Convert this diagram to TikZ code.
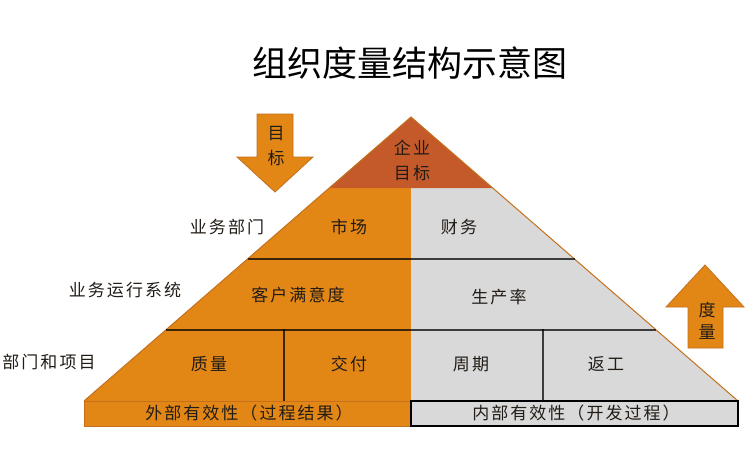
\documentclass[tikz,border=0pt]{standalone}
\usepackage{fontspec}
\setmainfont{Noto Sans CJK SC}
\newfontfamily\lblfont[LetterSpace=12]{Noto Sans CJK SC}
\usetikzlibrary{calc}
\definecolor{pyrorange}{RGB}{226, 135, 22}
\definecolor{pyrred}{RGB}{196, 90, 42}
\definecolor{pyrgrey}{RGB}{217, 217, 217}
\definecolor{pyredge}{RGB}{196, 112, 28}
\definecolor{pyrtext}{RGB}{34, 28, 22}

\begin{document}
\begin{tikzpicture}[x=1pt, y=-1pt,
  lbl/.style={font=\lblfont\fontsize{17}{25}\selectfont, text=pyrtext, inner sep=0pt, align=center},
  rowline/.style={draw=black, draw opacity=0.72, line width=1.3pt},
  bigarrow/.style={fill=pyrorange, draw=pyredge, line width=0.8pt}]
  \useasboundingbox (0,0) rectangle (750,459);

  % Title
  \node[font=\fontsize{35}{35}\selectfont, text=black] (title) at (410,63) {组织度量结构示意图};

  % Pyramid corners
  \coordinate (apex) at (411,117);
  \coordinate (bl) at (84,401);
  \coordinate (br) at (738,401);
  \coordinate (bm) at (411,401);

  \fill[pyrorange] (apex) -- (bl) -- (bm) -- cycle;
  \fill[pyrgrey] (apex) -- (br) -- (bm) -- cycle;
  \fill[pyrred] (apex) -- ($(apex)!0.25!(bl)$) -- ($(apex)!0.25!(br)$) -- cycle;
  \draw[pyredge, line width=1pt] (bl) -- (apex) -- (br);

  % Row and cell lines
  \draw[rowline] ($(apex)!0.5!(bl)$) -- ($(apex)!0.5!(br)$);
  \draw[rowline] ($(apex)!0.75!(bl)$) -- ($(apex)!0.75!(br)$);
  \draw[rowline] (284,329) -- (284,401);
  \draw[rowline] (543,329) -- (543,401);

  % Bottom bars
  \draw[fill=pyrorange, draw=pyredge, line width=1pt] (bl) rectangle (411,426);
  \draw[fill=pyrgrey, draw=black, line width=1.5pt] (bm) rectangle (738,426);

  % Arrows
  \draw[bigarrow] (257,114) -- (293,114) -- (293,157) -- (313,157) -- (275,192)
    -- (237,157) -- (257,157) -- cycle;
  \draw[bigarrow] (705,265) -- (744,307) -- (723,307) -- (723,348) -- (688,348)
    -- (688,307) -- (666,307) -- cycle;
  \node[lbl] (goalarrow) at (276,146) {目\\标};
  \node[lbl, font=\lblfont\fontsize{17}{22}\selectfont] (measarrow) at (707,321) {度\\量};

  % Cell labels
  \node[lbl] (enterprise) at (412,160) {企业\\目标};
  \node[lbl] (market) at (349,227) {市场};
  \node[lbl] (finance) at (459,227) {财务};
  \node[lbl] (satisfaction) at (298,295) {客户满意度};
  \node[lbl] (productivity) at (499,297) {生产率};
  \node[lbl] (quality) at (209,364) {质量};
  \node[lbl] (delivery) at (349,364) {交付};
  \node[lbl] (cycle) at (471,364) {周期};
  \node[lbl] (rework) at (606,364) {返工};

  % Level labels
  \node[lbl] (lvlunit) at (227,227) {业务部门};
  \node[lbl] (lvlsystem) at (125,290) {业务运行系统};
  \node[lbl] (lvlproject) at (49,362) {部门和项目};

  % Bar labels
  \node[lbl] (external) at (249,413) {外部有效性（过程结果）};
  \node[lbl] (internal) at (576,413) {内部有效性（开发过程）};
\end{tikzpicture}
\end{document}
